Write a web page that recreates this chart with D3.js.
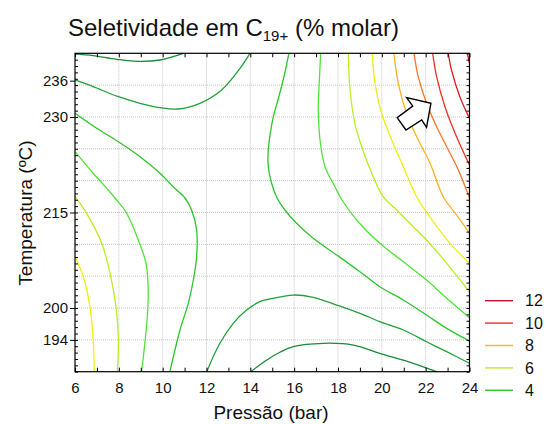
<!DOCTYPE html>
<html>
<head>
<meta charset="utf-8">
<script src="https://cdn.jsdelivr.net/npm/d3@7/dist/d3.min.js"></script>
<style>
body { margin: 0; background: #fff; }
svg { display: block; font-family: "Liberation Sans", Arial, sans-serif; }
.grid line { stroke: #c4c4c4; stroke-dasharray: 1,1; }
.axis text { font-size: 15px; fill: #111; }
.axis line { stroke: #000; }
</style>
</head>
<body>
<script>
// contour levels and their colours (low = green, high = red)
let levels = [2, 3, 4, 5, 6, 7, 8, 9, 10, 11, 12];
let levelColors = ["#1b8a3c", "#22a03a", "#2cc52c", "#52e33a", "#b8f020", "#f0ef10",
                   "#ffb21e", "#ff7422", "#f03026", "#e01c1e", "#c8142a"];

// levels listed in the legend
let legendLevels = [12, 10, 8, 6, 4];

// axis ticks; the temperature labels sit at these axis positions in the original
let xTicks = [6, 8, 10, 12, 14, 16, 18, 20, 22, 24];
let yTickPos = [235.7, 230, 215, 200, 195];
let yTickLabels = ["236", "230", "215", "200", "194"];

// contour lines: [pressure (bar), temperature (ºC)]
let c2top = [[6, 239.9], [6.83, 239.62], [7.9, 239.06], [8.89, 238.74], [9.88, 238.95], [10.94, 240]];
let c3top = [[6, 235.81], [6.83, 234.76], [7.98, 233.18], [8.97, 232.15], [9.88, 231.46], [10.71, 231.25],
             [11.7, 232.15], [12.69, 234.24], [13.53, 237.64], [13.98, 240]];
let c4left = [[6, 230.58], [6.99, 228.22], [7.98, 226.12], [8.97, 223.76], [9.88, 221.16], [10.48, 219.05],
              [11.02, 217.28], [11.32, 215.39], [11.55, 212.25], [11.55, 208.06], [11.4, 204.4],
              [11.17, 200.74], [10.79, 196.55], [10.33, 190]];
let c5left = [[6, 224.55], [6.83, 221.16], [7.52, 218.53], [7.9, 216.96], [8.36, 214.87], [8.89, 210.68],
              [9.24, 207.02], [9.34, 202.83], [9.3, 198.64], [9.04, 190]];
let c6left = [[6, 217.48], [6.53, 214.87], [7.22, 210.16], [7.6, 205.45], [7.87, 200.21], [7.98, 194.98], [7.93, 190]];
let c7left = [[6, 208.06], [6.38, 204.92], [6.68, 200.21], [6.83, 194.98], [6.88, 190]];
let c4right = [[15.76, 240], [15.5, 235.81], [15.26, 232.67], [15.05, 230.04], [14.82, 224.81], [14.82, 222.19],
               [14.97, 219.59], [15.22, 217.28], [15.58, 215.39], [16.04, 213.55], [16.87, 210.95],
               [17.94, 208.33], [19.0, 205.7], [19.91, 203.35], [20.98, 201.26], [22.04, 198.9],
               [22.96, 196.81], [24, 194.82]];
let c5right = [[17.21, 240], [17.15, 235.81], [17.1, 231.61], [17.18, 226.39], [17.41, 222.19], [17.86, 219.05],
               [18.18, 216.96], [18.92, 213.55], [19.91, 210.16], [20.98, 207.27], [22.04, 204.4],
               [22.96, 201.53], [24, 198.48]];
let c6right = [[18.47, 240], [18.55, 234.24], [18.77, 229.01], [19.08, 225.33], [19.54, 221.16], [20.06, 217.48],
               [20.68, 215.39], [21.43, 212.77], [22.04, 210.68], [22.96, 207.02], [24, 202.56]];
let c7right = [[19.56, 240], [19.69, 235.29], [19.99, 230.58], [20.45, 226.39], [20.98, 222.19], [21.59, 217.48],
               [22.35, 213.55], [23.11, 210.16], [24, 207.02]];
let c8right = [[20.55, 240], [20.75, 235.29], [21.13, 230.58], [21.59, 226.9], [22.2, 222.73], [22.8, 217.48],
               [23.41, 214.61], [24, 211.73]];
let c9right = [[21.47, 240], [21.66, 236.33], [22.04, 232.15], [22.5, 228.47], [22.96, 225.33], [23.49, 221.67], [24, 217.28]];
let c10right = [[22.32, 240], [22.5, 236.33], [22.88, 231.61], [23.41, 226.9], [24, 222.46]];
let c11right = [[23.03, 240], [23.18, 237.38], [23.56, 233.18], [24, 229.79]];
let c12right = [[23.9, 240], [24, 238.43]];
let c3bottom = [[12.01, 190], [12.61, 194.46], [13.22, 197.6], [13.83, 199.69], [14.44, 200.99], [14.9, 201.42],
                [15.96, 202.04], [16.87, 201.68], [17.94, 200.47], [19.0, 199.17], [19.91, 197.85],
                [20.98, 196.55], [22.04, 194.71], [22.96, 193.14], [24, 191.32]];
let c2bottom = [[14.02, 190], [14.75, 191.84], [15.35, 193.05], [15.96, 193.93], [17.33, 194.46], [18.7, 194.19],
                [19.91, 192.89], [21.43, 191.32], [22.5, 190]];

let contours = [
    [2, c2top], [3, c3top], [4, c4left], [5, c5left], [6, c6left], [7, c7left],
    [4, c4right], [5, c5right], [6, c6right], [7, c7right], [8, c8right], [9, c9right],
    [10, c10right], [11, c11right], [12, c12right], [3, c3bottom], [2, c2bottom]
];

// steepest-ascent arrow outline, in axis units
let arrowShape = [[22.24, 232.15], [21.13, 233.03], [21.41, 231.72], [20.7, 229.89], [21.1, 227.96],
                  [21.82, 229.53], [22.04, 228.38]];

let width = 546, height = 424;
let plot = { left: 75, right: 469.5, top: 53.3, bottom: 371.7 };

let x = d3.scaleLinear([6, 24], [plot.left, plot.right]);
let y = d3.scaleLinear([190, 240], [plot.bottom, plot.top]);
let color = d3.scaleOrdinal(levels, levelColors);

let svg = d3.select("body")
    .append("svg")
    .attr("width", width)
    .attr("height", height);

svg.append("rect")
    .attr("width", width)
    .attr("height", height)
    .attr("fill", "#fff");

// Grid
let grid = svg.append("g").attr("class", "grid");
grid.selectAll(".gx")
    .data(d3.range(8, 24, 2))
    .enter()
    .append("line")
    .attr("x1", d => x(d)).attr("x2", d => x(d))
    .attr("y1", plot.top).attr("y2", plot.bottom);
grid.selectAll(".gy")
    .data(d3.range(195, 240, 5))
    .enter()
    .append("line")
    .attr("y1", d => y(d)).attr("y2", d => y(d))
    .attr("x1", plot.left).attr("x2", plot.right);

// Contour lines
let line = d3.line()
    .x(d => x(d[0]))
    .y(d => y(d[1]))
    .curve(d3.curveCatmullRom);

svg.append("g")
    .selectAll("path")
    .data(contours)
    .enter()
    .append("path")
    .attr("d", d => line(d[1]))
    .attr("fill", "none")
    .attr("stroke", d => color(d[0]))
    .attr("stroke-width", 1.3);

// Arrow
svg.append("path")
    .attr("d", d3.line().x(d => x(d[0])).y(d => y(d[1]))(arrowShape) + "Z")
    .attr("fill", "#fff")
    .attr("stroke", "#000")
    .attr("stroke-width", 1.4)
    .attr("stroke-linejoin", "miter");

// Axes
svg.append("g")
    .attr("class", "axis")
    .attr("transform", `translate(0,${plot.bottom})`)
    .call(d3.axisBottom(x).tickValues(d3.range(6, 25, 1)).tickSize(-4).tickPadding(10.5)
        .tickFormat(d => xTicks.includes(d) ? d : ""))
    .call(g => g.select(".domain").remove());

svg.append("g")
    .attr("class", "axis")
    .attr("transform", `translate(0,${plot.top})`)
    .call(d3.axisTop(x).tickValues(d3.range(6, 25, 1)).tickSize(-4).tickFormat(""))
    .call(g => g.select(".domain").remove());

svg.append("g")
    .attr("class", "axis")
    .attr("transform", `translate(${plot.left},0)`)
    .call(d3.axisLeft(y).tickValues(d3.range(190, 241, 1)).tickSize(-3).tickFormat(""))
    .call(g => g.select(".domain").remove());

svg.append("g")
    .attr("class", "axis")
    .attr("transform", `translate(${plot.left},0)`)
    .call(d3.axisLeft(y).tickValues(yTickPos).tickSize(5).tickPadding(2)
        .tickFormat((d, i) => yTickLabels[i]))
    .call(g => g.select(".domain").remove());

svg.append("g")
    .attr("class", "axis")
    .attr("transform", `translate(${plot.right},0)`)
    .call(d3.axisRight(y).tickValues(d3.range(190, 241, 1)).tickSize(-3).tickFormat(""))
    .call(g => g.select(".domain").remove());

// Frame
svg.append("rect")
    .attr("x", plot.left)
    .attr("y", plot.top)
    .attr("width", plot.right - plot.left)
    .attr("height", plot.bottom - plot.top)
    .attr("fill", "none")
    .attr("stroke", "#000")
    .attr("stroke-width", 1.2);

// Title
let title = svg.append("text")
    .attr("x", 68)
    .attr("y", 36)
    .style("font-size", "24px")
    .attr("fill", "#111");
title.append("tspan").text("Seletividade em C");
title.append("tspan").attr("dy", 5).style("font-size", "15px").text("19+");
title.append("tspan").attr("dy", -5).text(" (% molar)");

// Axis titles
svg.append("text")
    .attr("x", 271)
    .attr("y", 419)
    .attr("text-anchor", "middle")
    .style("font-size", "19px")
    .attr("fill", "#111")
    .text("Pressão (bar)");

svg.append("text")
    .attr("transform", "translate(31.5,213) rotate(-90)")
    .attr("text-anchor", "middle")
    .style("font-size", "19px")
    .attr("fill", "#111")
    .text("Temperatura (ºC)");

// Legend
let legend = svg.append("g")
    .selectAll("g")
    .data(legendLevels)
    .enter()
    .append("g")
    .attr("transform", (d, i) => `translate(485,${300.7 + i * 22.4})`);

legend.append("line")
    .attr("x2", 28)
    .attr("stroke", d => color(d))
    .attr("stroke-width", 1.4);

legend.append("text")
    .attr("x", 40)
    .attr("dy", "0.36em")
    .style("font-size", "16px")
    .attr("fill", "#111")
    .text(d => d);
</script>
</body>
</html>
